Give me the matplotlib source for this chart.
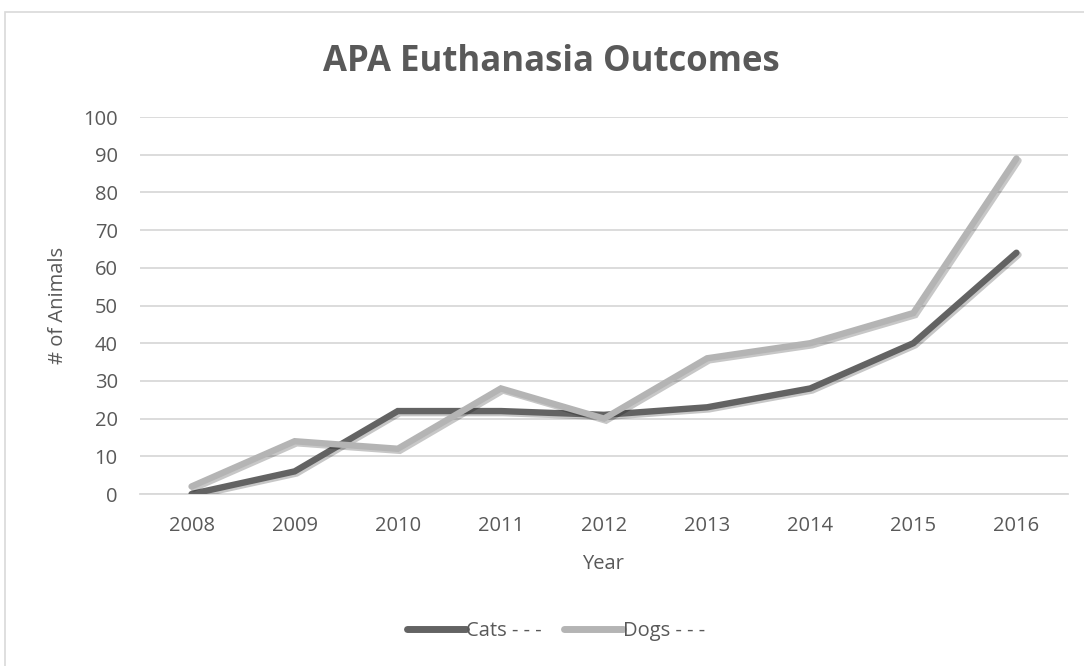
import matplotlib
matplotlib.use("Agg")
import matplotlib.pyplot as plt
import matplotlib.patheffects as pe
from matplotlib.patches import Rectangle

years = ["2008", "2009", "2010", "2011", "2012", "2013", "2014", "2015", "2016"]
cats = [0, 6, 22, 22, 21, 23, 28, 40, 64]
dogs = [2, 14, 12, 28, 20, 36, 40, 48, 89]

plt.rcParams['font.family'] = ['Open Sans', 'DejaVu Sans']
txt = "#595959"
W, H = 1084, 666

fig = plt.figure(figsize=(W / 100, H / 100), dpi=100)
fig.patches.append(Rectangle((5 / W, -0.01), 1.0, 1 - 12 / H + 0.01,
                             transform=fig.transFigure, fill=False,
                             edgecolor="#d9d9d9", linewidth=1.2))
ax = fig.add_axes([140 / W, 1 - 494 / H, (1068 - 140) / W, (494 - 117) / H])

x = list(range(len(years)))
shadow = [pe.SimpleLineShadow(offset=(1.5, -1.5), shadow_color="black", alpha=0.22), pe.Normal()]
ax.plot(x, cats, color="#636363", lw=4.6, solid_capstyle="round", solid_joinstyle="miter",
        label="Cats - - -", path_effects=shadow, zorder=3)
ax.plot(x, dogs, color="#b4b4b4", lw=4.6, solid_capstyle="round", solid_joinstyle="miter",
        label="Dogs - - -", path_effects=shadow, zorder=4)

ax.set_xlim(-0.5, len(years) - 0.5)
ax.set_ylim(0, 100)
ax.set_yticks(range(0, 101, 10))
ax.set_xticks(x)
ax.set_xticklabels(years)
ax.grid(axis="y", color="#d9d9d9", lw=1.3)
ax.set_axisbelow(True)
for s in ["top", "right", "left"]:
    ax.spines[s].set_visible(False)
ax.spines["bottom"].set_color("#d9d9d9")
ax.spines["bottom"].set_linewidth(1.3)
ax.tick_params(axis="both", length=0, labelsize=14.5, labelcolor=txt)
ax.tick_params(axis="y", pad=16)
ax.tick_params(axis="x", pad=16)

fig.text(603 / W, 1 - 564 / H, "Year", ha="center", va="center", fontsize=14.5, color=txt)
fig.text(58 / W, 1 - 305 / H, "# of Animals", ha="center", va="center", rotation=90,
         fontsize=14.5, color=txt)
fig.text(551 / W, 1 - 62 / H, "APA Euthanasia Outcomes",
         ha="center", va="center", fontsize=25, fontweight="bold", color=txt)

leg = fig.legend(loc="center", bbox_to_anchor=(556 / W, 1 - 631 / H), ncol=2,
                 frameon=False, fontsize=14.5, handlelength=2.9, handletextpad=0.0,
                 columnspacing=1.15, labelcolor=txt, borderpad=0)
for h in leg.get_lines():
    h.set_path_effects([])
    h.set_solid_capstyle("round")
    h.set_linewidth(5)

fig.savefig("out.png", dpi=100)
